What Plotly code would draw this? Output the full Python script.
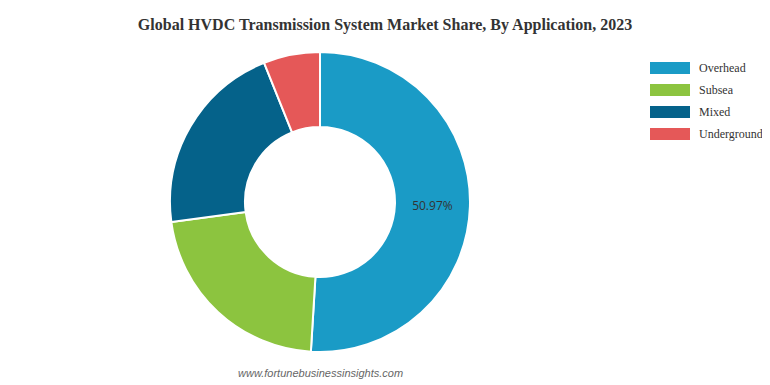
import plotly.graph_objects as go

labels = ["Overhead", "Subsea", "Mixed", "Underground"]
values = [50.97, 21.90, 21.05, 6.08]
colors = ["#1a9bc6", "#8cc43f", "#05628a", "#e55858"]
shown_text = ["%{percent:.2%}", "", "", ""]

W, H = 770, 385
OFF = 8  # page body margin offset
T, B = 52 - OFF, H - (352 - OFF)
PH = H - T - B


def py(y):
    return 1 - (y - OFF - T) / PH


def px(x):
    return (x - OFF) / W


fig = go.Figure()
fig.add_trace(go.Pie(
    labels=labels, values=values, hole=0.5, sort=False, direction="clockwise",
    rotation=0,
    marker=dict(colors=colors, line=dict(color="white", width=2)),
    texttemplate=shown_text, textposition="inside", insidetextorientation="horizontal",
    textfont=dict(family="Open Sans", size=12, color="#333333"),
    domain=dict(x=[px(170), px(470)], y=[0, 1]),
    showlegend=False, hoverinfo="label+percent",
))

shapes = []
annotations = []
for i, (lab, col) in enumerate(zip(labels, colors)):
    yc = 68 + 22 * i
    shapes.append(dict(type="rect", xref="paper", yref="paper",
                       x0=px(650), x1=px(690),
                       y0=py(yc + 6), y1=py(yc - 6),
                       fillcolor=col, line=dict(width=0)))
    annotations.append(dict(xref="paper", yref="paper", x=px(697), y=py(yc),
                            text=lab, showarrow=False, xanchor="left", yanchor="middle",
                            font=dict(family="Liberation Serif", size=12, color="#333333")))

annotations.append(dict(xref="paper", yref="paper", x=px(320), y=py(373),
                        text="<i>www.fortunebusinessinsights.com</i>", showarrow=False,
                        xanchor="center", yanchor="middle",
                        font=dict(family="Liberation Sans", size=11, color="#666666")))

fig.update_layout(
    width=W, height=H,
    margin=dict(l=0, r=0, t=T, b=B),
    paper_bgcolor="white", plot_bgcolor="white",
    title=dict(text="<b>Global HVDC Transmission System Market Share, By Application, 2023</b>",
               x=px(385), xanchor="center", y=1 - (24 - OFF) / H, yanchor="middle",
               font=dict(family="Liberation Serif", size=16, color="#333333")),
    shapes=shapes, annotations=annotations,
)
fig.write_html("out.html")
